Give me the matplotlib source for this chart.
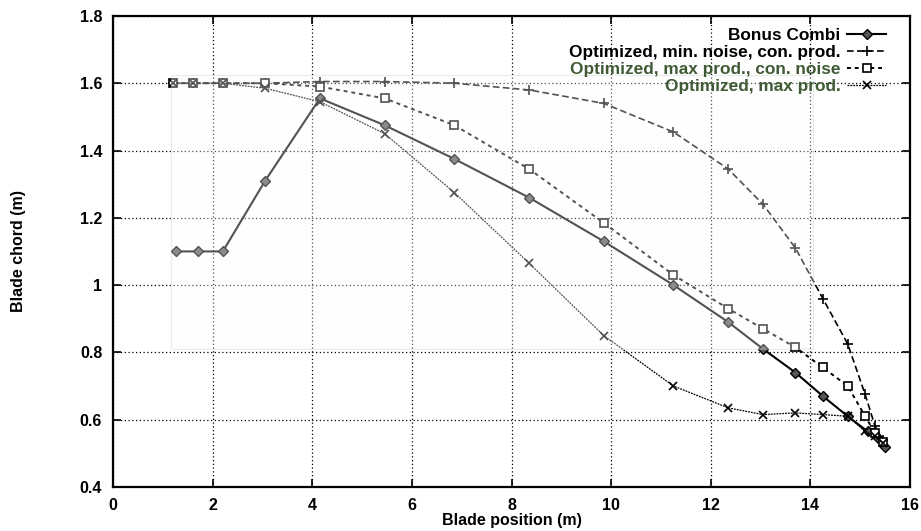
import matplotlib
matplotlib.use('Agg')
import matplotlib.pyplot as plt
from matplotlib.patches import Rectangle

plt.rcParams['font.family'] = ['Liberation Sans', 'DejaVu Sans']
plt.rcParams['font.weight'] = 'bold'
plt.rcParams['axes.labelweight'] = 'bold'
plt.rcParams['font.size'] = 11.5

# blade chord along the blade for the four designs
bonus_x = [1.25, 1.7, 2.2, 3.05, 4.15, 5.45, 6.85, 8.35, 9.85, 11.25, 12.35,
           13.05, 13.7, 14.25, 14.75, 15.15, 15.35, 15.5]
bonus_y = [1.10, 1.10, 1.10, 1.31, 1.555, 1.475, 1.375, 1.26, 1.13, 1.00,
           0.89, 0.81, 0.74, 0.67, 0.61, 0.565, 0.545, 0.52]

opt_x = [1.2, 1.6, 2.2, 3.05, 4.15, 5.45, 6.85, 8.35, 9.85, 11.25, 12.35,
         13.05, 13.7, 14.25, 14.75, 15.1, 15.3, 15.45]
minnoise_y = [1.6, 1.6, 1.6, 1.6, 1.605, 1.605, 1.6, 1.58, 1.54, 1.455,
              1.345, 1.24, 1.11, 0.96, 0.825, 0.675, 0.58, 0.54]
connoise_y = [1.6, 1.6, 1.6, 1.6, 1.59, 1.555, 1.475, 1.345, 1.185, 1.03,
              0.93, 0.87, 0.815, 0.755, 0.70, 0.61, 0.56, 0.535]
maxprod_y = [1.6, 1.6, 1.6, 1.585, 1.545, 1.45, 1.275, 1.065, 0.85, 0.70,
             0.635, 0.615, 0.62, 0.615, 0.61, 0.565, 0.55, 0.53]

labels = ['Bonus Combi',
          'Optimized, min. noise, con. prod.',
          'Optimized, max prod., con. noise',
          'Optimized, max prod.']

fig = plt.figure(figsize=(9.21, 5.31), dpi=100)
ax = fig.add_axes([0.123, 0.083, 0.865, 0.887])

ax.plot(bonus_x, bonus_y, '-', color='black', lw=1.5, marker='D', ms=5,
        mfc='#555555', mec='black', label=labels[0], zorder=3)
ax.plot(opt_x, minnoise_y, color='black', lw=1.2, ls=(0, (4, 2)), marker='+',
        ms=7, mew=1.2, label=labels[1], zorder=3)
ax.plot(opt_x, connoise_y, color='black', lw=1.4, ls=(0, (2, 2)), marker='s',
        ms=6, mfc='white', mec='black', mew=1.2, label=labels[2], zorder=3)
ax.plot(opt_x, maxprod_y, color='black', lw=0.9, ls=(0, (1.5, 0.8)),
        marker='x', ms=6, mew=1.2, label=labels[3], zorder=3)

# washed-out patch over the upper part of the plot
ax.add_patch(Rectangle((1.15, 0.81), 12.9, 0.815, facecolor='#fbfcf9',
                       edgecolor='#c4c8c0', lw=0.8, alpha=0.33, zorder=4))

ax.set_xlim(0, 16)
ax.set_ylim(0.4, 1.8)
ax.set_xticks(range(0, 17, 2))
ax.set_yticks([0.4, 0.6, 0.8, 1.0, 1.2, 1.4, 1.6, 1.8])
ax.set_yticklabels(['0.4', '0.6', '0.8', '1', '1.2', '1.4', '1.6', '1.8'])
ax.tick_params(direction='in', length=6, width=1.2, top=True, right=True,
               pad=8)
ax.grid(True, color='black', ls=(0, (1, 2)), lw=0.9)
for sp in ax.spines.values():
    sp.set_linewidth(1.6)

ax.set_xlabel('Blade position (m)', labelpad=0)
ax.set_ylabel('Blade chord (m)', labelpad=39)

leg = ax.legend(loc='upper right', bbox_to_anchor=(0.979, 0.99),
                markerfirst=False, frameon=False, handlelength=2.3,
                handletextpad=0.35, labelspacing=0.12, borderaxespad=0,
                fontsize=12.4)
for t in leg.get_texts()[2:]:
    t.set_color('#3f5a35')

plt.savefig('out.png', dpi=100, facecolor='w')
